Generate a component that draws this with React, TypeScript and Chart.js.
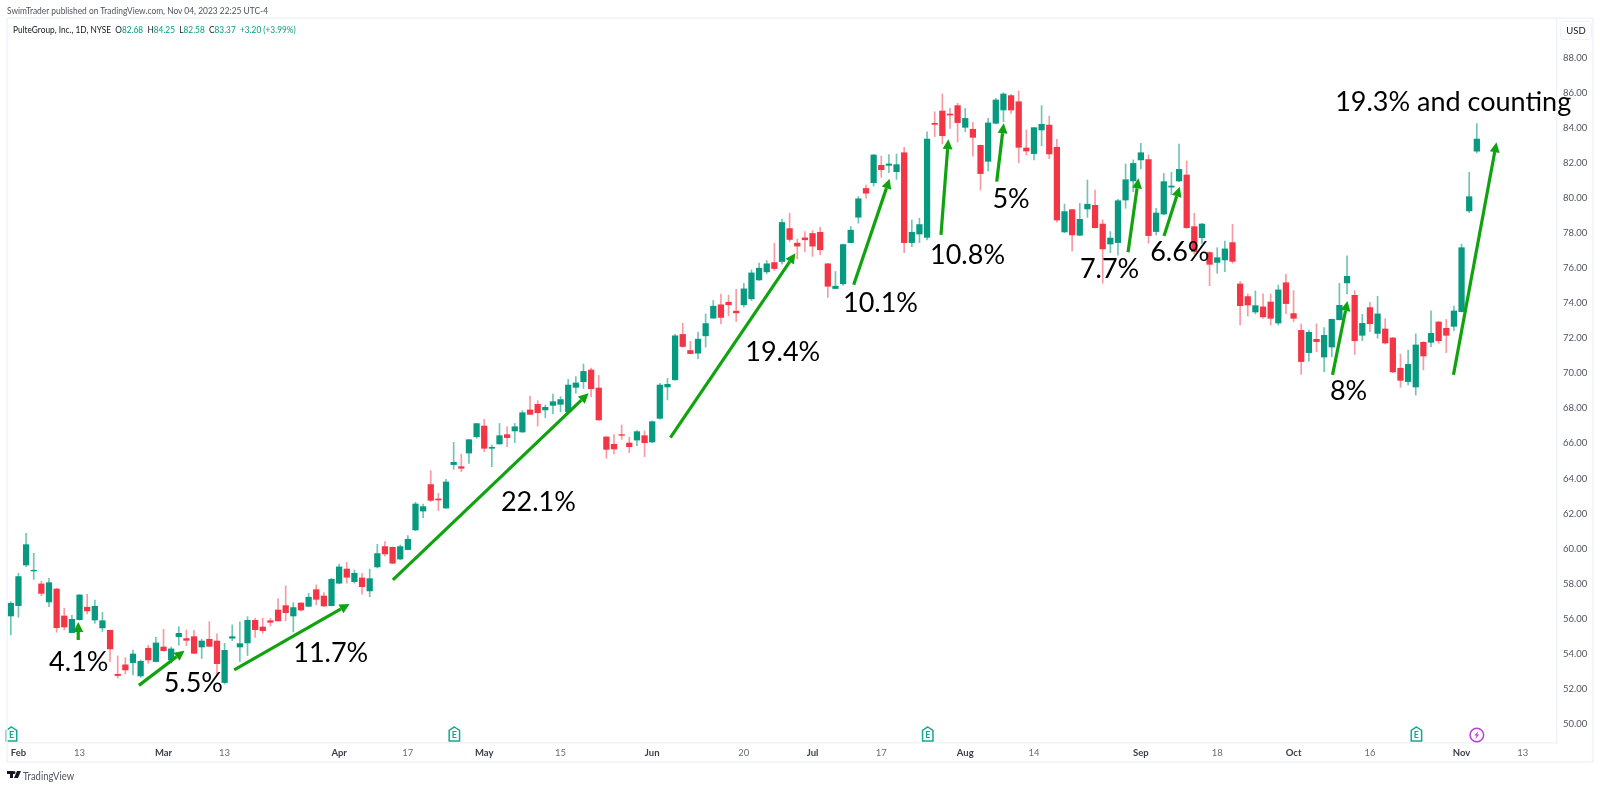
import { useEffect, useRef } from "react"
import { Chart, registerables } from "chart.js"

Chart.register(...registerables)

const opens = [
  56.15, 56.74, 59.06, 58.72, 57.98, 56.95, 57.69, 56.15, 55.2, 55.94,
  56.65, 55.92, 55.47, 55.33, 52.82, 53.36, 53.49, 52.73, 54.31, 53.55,
  54.38, 53.64, 54.97, 54.86, 54.97, 54.38, 54.82, 54.72, 52.35, 54.88,
  54.38, 54.61, 55.9, 55.52, 55.88, 56.49, 56.74, 56.15, 56.89, 56.7,
  57.65, 57.29, 56.74, 58.02, 58.83, 58.11, 58.32, 57.58, 58.95, 60.11,
  60.07, 59.4, 59.94, 61.06, 62.14, 63.65, 62.83, 62.31, 64.79, 64.67,
  65.45, 66.38, 66.99, 65.72, 65.97, 66.5, 66.71, 66.65, 67.91, 68.23,
  67.91, 68.17, 68.23, 67.81, 69.2, 69.52, 70.19, 69.16, 66.37, 65.95,
  66.5, 66.02, 66.19, 66.44, 66.08, 67.43, 69.22, 69.63, 72.22, 71.3,
  71.15, 72.14, 73.15, 73.91, 74.06, 73.55, 73.91, 74.25, 75.33, 75.79,
  76.32, 76.38, 78.26, 77.43, 77.73, 77.98, 78.05, 76.25, 74.84, 75.11,
  77.46, 78.91, 80.55, 80.88, 81.87, 81.87, 81.51, 82.59, 77.46, 77.95,
  77.76, 84.27, 84.97, 84.8, 85.28, 84.04, 83.93, 83.01, 82.1, 84.27,
  85.03, 85.85, 85.5, 82.86, 82.54, 83.89, 84.17, 82.9, 78.07, 79.34,
  77.88, 79.38, 79.59, 78.52, 77.38, 77.46, 79.89, 80.98, 82.18, 82.2,
  78.09, 79.09, 80.63, 80.98, 81.32, 78.37, 77.74, 76.89, 76.33, 76.47,
  77.46, 75.1, 74.38, 73.5, 73.79, 74.07, 72.87, 75.17, 73.41, 72.45,
  71.18, 71.94, 70.93, 71.5, 73.06, 75.16, 74.45, 72.17, 73.75, 72.28,
  72.53, 72.02, 70.29, 69.53, 69.22, 71.77, 71.77, 72.93, 72.57, 72.68,
  73.52, 79.27, 82.68,
]

const highs = [
  56.97, 58.59, 60.87, 59.73, 58.13, 58.3, 57.73, 56.59, 56.19, 57.37,
  57.39, 57.06, 56.36, 55.35, 53.87, 53.77, 54.21, 53.64, 54.48, 54.93,
  55.39, 54.38, 55.54, 55.35, 55.33, 54.82, 55.83, 55.13, 54.59, 55.64,
  55.81, 56.11, 56.02, 56.02, 56.02, 57.14, 57.86, 56.91, 56.91, 57.44,
  57.92, 57.48, 58.3, 59.1, 59.21, 58.78, 58.59, 58.83, 60.24, 60.39,
  60.09, 60.2, 60.74, 62.64, 62.54, 64.44, 63.15, 63.95, 66.06, 65.38,
  66.23, 67.14, 67.37, 65.91, 67.14, 66.95, 67.14, 67.87, 68.7, 68.44,
  68.19, 68.82, 68.67, 69.66, 69.81, 70.53, 70.3, 69.88, 66.38, 66.5,
  67.05, 66.35, 66.73, 66.71, 67.28, 69.43, 69.71, 72.23, 72.86, 71.82,
  72.35, 73.39, 74.16, 74.52, 74.46, 74.8, 75.14, 75.9, 76.29, 76.44,
  77.43, 78.8, 79.14, 77.66, 78.09, 78.15, 78.34, 76.27, 75.81, 77.37,
  78.38, 80.09, 80.75, 82.5, 82.4, 82.48, 82.52, 82.9, 78.75, 78.85,
  83.79, 84.93, 85.94, 85.12, 85.41, 85.12, 84.32, 83.03, 84.55, 85.69,
  86.02, 85.92, 86.11, 83.89, 84.04, 85.28, 84.69, 83.35, 79.66, 79.36,
  79.7, 81.03, 80.46, 78.75, 78.09, 79.93, 81.95, 82.18, 83.13, 82.46,
  79.42, 81.41, 81.47, 83.09, 82.12, 79.13, 78.56, 76.94, 77.17, 77.55,
  78.5, 75.23, 74.53, 74.7, 74.53, 74.53, 75.04, 75.65, 74.72, 72.82,
  72.47, 72.82, 72.61, 73.1, 75.14, 76.7, 74.72, 73.37, 74.05, 74.39,
  73.12, 72.04, 71.1, 71.33, 72.25, 71.81, 73.56, 72.95, 73.08, 73.84,
  77.38, 81.47, 84.25,
]

const lows = [
  55.07, 56.08, 58.97, 58.24, 57.31, 56.68, 55.22, 55.35, 55.18, 55.92,
  56.27, 55.73, 55.26, 53.55, 52.61, 52.84, 52.78, 52.65, 53.45, 53.53,
  54.14, 53.45, 54.48, 54.46, 54.0, 53.72, 54.4, 52.78, 52.27, 54.74,
  53.55, 53.89, 54.93, 55.16, 55.58, 55.85, 55.88, 55.24, 56.42, 56.68,
  56.78, 56.68, 56.72, 57.98, 58.02, 58.02, 57.39, 57.25, 58.89, 59.57,
  59.14, 59.35, 59.92, 61.02, 61.76, 62.68, 62.16, 62.29, 64.52, 64.39,
  64.86, 66.29, 65.53, 64.67, 65.95, 65.81, 66.04, 66.63, 67.64, 66.99,
  67.47, 67.68, 67.81, 67.79, 68.86, 69.14, 68.67, 67.32, 65.15, 65.4,
  66.23, 65.47, 65.87, 65.24, 66.04, 67.39, 68.48, 69.61, 71.49, 71.11,
  70.83, 71.49, 73.13, 72.82, 73.28, 72.96, 73.78, 74.16, 75.3, 75.68,
  75.87, 76.25, 77.52, 76.53, 76.95, 76.67, 76.76, 74.33, 74.82, 75.01,
  77.45, 78.57, 80.0, 80.69, 81.19, 81.45, 81.07, 76.89, 77.23, 77.46,
  77.61, 83.51, 83.09, 83.98, 83.2, 83.79, 82.4, 80.46, 81.55, 84.23,
  84.36, 84.84, 82.02, 82.46, 82.18, 82.99, 82.25, 78.62, 78.03, 76.98,
  77.86, 78.9, 78.3, 75.14, 76.89, 76.75, 79.42, 80.37, 81.66, 77.42,
  77.9, 79.04, 80.18, 80.94, 78.28, 76.8, 77.42, 75.0, 75.71, 75.8,
  76.28, 72.76, 73.27, 73.39, 73.14, 72.76, 72.76, 73.41, 72.95, 69.94,
  70.7, 71.24, 70.1, 70.95, 73.04, 74.53, 71.08, 71.86, 72.38, 72.0,
  71.67, 70.04, 69.2, 69.34, 68.76, 70.19, 71.52, 71.71, 71.18, 72.43,
  73.5, 79.17, 82.58,
]

const closes = [
  56.87, 58.4, 60.22, 58.76, 57.44, 58.05, 55.48, 55.52, 55.96, 57.35,
  56.44, 56.7, 55.88, 54.27, 52.75, 53.07, 53.98, 53.56, 53.64, 54.61,
  54.17, 54.27, 55.16, 54.76, 54.02, 54.72, 54.42, 53.43, 54.19, 54.97,
  54.57, 55.9, 55.37, 55.31, 55.79, 55.87, 56.34, 56.63, 56.49, 57.22,
  57.1, 56.72, 58.24, 58.95, 58.36, 58.59, 57.82, 58.28, 59.71, 59.69,
  59.16, 60.11, 60.53, 62.54, 62.39, 62.75, 62.77, 63.8, 64.92, 64.58,
  66.21, 67.13, 65.72, 65.78, 66.44, 66.33, 66.95, 67.75, 67.66, 67.75,
  68.06, 68.38, 68.5, 69.33, 69.45, 70.11, 69.12, 67.34, 65.66, 65.68,
  66.46, 65.81, 66.67, 66.04, 67.24, 69.33, 69.37, 72.14, 71.53, 71.13,
  71.95, 72.84, 73.83, 73.19, 73.91, 73.45, 74.82, 75.73, 76.0, 76.25,
  75.98, 78.61, 77.64, 77.26, 77.62, 77.26, 77.05, 74.97, 74.97, 77.35,
  78.17, 79.96, 80.28, 82.46, 81.62, 81.95, 81.91, 77.46, 78.05, 78.49,
  83.37, 84.21, 83.56, 84.74, 84.31, 84.55, 83.47, 81.4, 84.29, 85.6,
  85.94, 85.03, 82.9, 82.69, 84.02, 84.21, 82.52, 78.75, 79.23, 77.9,
  78.79, 79.65, 78.31, 77.1, 77.72, 79.85, 81.05, 81.98, 82.59, 77.86,
  79.15, 80.94, 80.69, 81.64, 78.31, 76.94, 78.52, 76.22, 76.6, 77.1,
  76.39, 73.86, 73.9, 73.86, 73.22, 73.14, 74.76, 73.98, 73.14, 70.67,
  72.34, 71.81, 72.17, 73.08, 73.88, 75.54, 71.86, 72.85, 72.83, 73.39,
  71.73, 70.08, 69.6, 70.51, 71.62, 70.99, 72.28, 71.86, 72.17, 73.56,
  77.17, 80.08, 83.37,
]

const priceTicks = [50, 52, 54, 56, 58, 60, 62, 64, 66, 68, 70, 72, 74, 76, 78, 80, 82, 84, 86, 88]
const slotCount = 203 // 193 sessions plus the empty space on the right
const dateTickSlots = [1, 9, 20, 28, 43, 52, 62, 72, 84, 96, 105, 114, 125, 134, 148, 158, 168, 178, 190, 198]
const dateTickLabels = ["Feb", "13", "Mar", "13", "Apr", "17", "May", "15", "Jun", "20", "Jul", "17", "Aug", "14", "Sep", "18", "Oct", "16", "Nov", "13"]
const monthNames = ["Feb", "Mar", "Apr", "May", "Jun", "Jul", "Aug", "Sep", "Oct", "Nov"]

const earningsSlots = [0, 58, 120, 184]
const splitSlots = [192]

const noteTexts = ["4.1%", "5.5%", "11.7%", "22.1%", "19.4%", "10.1%", "10.8%", "5%", "7.7%", "6.6%", "8%", "19.3% and counting"]
const noteSlots = [8.9, 23.9, 41.9, 69.1, 101.1, 113.9, 125.3, 131, 143.9, 153.1, 175.2, 188.9]
const notePrices = [53.52, 52.33, 54.04, 62.66, 71.22, 74.02, 76.76, 79.95, 75.96, 76.93, 69.0, 85.49]

const arrowFromSlots = [8.83, 16.77, 29.26, 50.04, 86.38, 110.39, 121.82, 129.12, 146.32, 151.03, 173.1, 188.94]
const arrowFromPrices = [54.78, 52.19, 53.07, 58.21, 66.33, 75.06, 77.9, 80.94, 76.91, 77.84, 69.91, 69.91]
const arrowToSlots = [8.83, 22.75, 44.37, 75.67, 102.75, 115.1, 122.79, 130.04, 147.68, 153.09, 175.06, 194.58]
const arrowToPrices = [55.81, 54.17, 56.84, 68.86, 76.85, 81.11, 83.36, 84.27, 81.13, 80.65, 74.13, 83.19]

const UP = "#089981"
const DOWN = "#f23645"
const UP_WICK = "rgba(8,153,129,0.58)"
const DOWN_WICK = "rgba(242,54,69,0.5)"
const ARROW = "#10a30f"
const FRAME = "#f0f3fa"
const UI_FONT = "Lato, sans-serif"

const isUp = (i: number) => closes[i] >= opens[i]

const markupPlugin = {
  id: "markup",
  afterDatasetsDraw(chart: any) {
    const { ctx, scales } = chart
    const x = scales.x
    const y = scales.y
    // the category scale takes fractional indexes for the notes and arrows
    const px = (slot: number) => x.getPixelForValue(slot)
    const py = (price: number) => y.getPixelForValue(price)

    ctx.save()
    ctx.textAlign = "center"
    ctx.textBaseline = "middle"

    // green arrows
    arrowToSlots.forEach((_, i) => {
      const x0 = px(arrowFromSlots[i])
      const y0 = py(arrowFromPrices[i])
      const x1 = px(arrowToSlots[i])
      const y1 = py(arrowToPrices[i])
      const angle = Math.atan2(y1 - y0, x1 - x0)
      const headLen = 10
      const headHalf = 5
      const bx = x1 - Math.cos(angle) * headLen
      const by = y1 - Math.sin(angle) * headLen
      ctx.strokeStyle = ARROW
      ctx.fillStyle = ARROW
      ctx.lineWidth = 3.2
      ctx.beginPath()
      ctx.moveTo(x0, y0)
      ctx.lineTo(bx, by)
      ctx.stroke()
      ctx.beginPath()
      ctx.moveTo(x1, y1)
      ctx.lineTo(bx - Math.sin(angle) * headHalf, by + Math.cos(angle) * headHalf)
      ctx.lineTo(bx + Math.sin(angle) * headHalf, by - Math.cos(angle) * headHalf)
      ctx.closePath()
      ctx.fill()
    })

    // earnings flags along the bottom of the pane
    const base = chart.chartArea.bottom
    earningsSlots.forEach((slot) => {
      const cx = px(slot) + 0.7
      ctx.strokeStyle = "#1aa58d"
      ctx.lineWidth = 1.5
      ctx.beginPath()
      ctx.moveTo(cx, base - 16)
      ctx.lineTo(cx + 5.2, base - 12.5)
      ctx.lineTo(cx + 5.2, base - 2)
      ctx.lineTo(cx - 5.2, base - 2)
      ctx.lineTo(cx - 5.2, base - 12.5)
      ctx.closePath()
      ctx.stroke()
      ctx.fillStyle = "#1aa58d"
      ctx.font = `bold 9px ${UI_FONT}`
      ctx.fillText("E", cx, base - 8)
    })

    // split marker
    splitSlots.forEach((slot) => {
      const cx = px(slot)
      const cy = base - 8
      ctx.strokeStyle = "#ba3fd6"
      ctx.fillStyle = "#ba3fd6"
      ctx.lineWidth = 1.5
      ctx.beginPath()
      ctx.arc(cx, cy, 6.8, 0, Math.PI * 2)
      ctx.stroke()
      ctx.beginPath()
      ctx.moveTo(cx + 1.8, cy - 4.2)
      ctx.lineTo(cx - 2.4, cy + 0.6)
      ctx.lineTo(cx - 0.2, cy + 0.6)
      ctx.lineTo(cx - 1.8, cy + 4.2)
      ctx.lineTo(cx + 2.4, cy - 0.6)
      ctx.lineTo(cx + 0.2, cy - 0.6)
      ctx.closePath()
      ctx.fill()
    })

    // outer frame of the widget
    ctx.strokeStyle = FRAME
    ctx.lineWidth = 1.5
    ctx.strokeRect(chart.chartArea.left, chart.chartArea.top, 1593 - chart.chartArea.left, 762 - chart.chartArea.top)

    // percent notes, allowed to run over the price axis
    ctx.fillStyle = "#000000"
    ctx.font = "27px Lato, sans-serif"
    noteTexts.forEach((text, i) => {
      ctx.fillText(text, px(noteSlots[i]), py(notePrices[i]))
    })
    ctx.restore()
  },
}

const textStyle = {
  position: "absolute",
  whiteSpace: "nowrap",
  fontFamily: UI_FONT,
  lineHeight: 1,
  transformOrigin: "left center",
} as const

function Val({ children }: { children: string }) {
  return <span style={{ color: UP }}>{children}</span>
}

export default function App() {
  const canvasRef = useRef<HTMLCanvasElement>(null)

  useEffect(() => {
    if (!canvasRef.current) return
    const labels = Array.from({ length: slotCount }, (_, i) => String(i))
    const idx = opens.map((_, i) => i)

    const chart = new Chart(canvasRef.current, {
      type: "bar",
      data: {
        labels,
        datasets: [
          {
            label: "Body",
            data: idx.map((i) => [opens[i], closes[i]]),
            backgroundColor: idx.map((i) => (isUp(i) ? UP : DOWN)),
            barThickness: 5.6,
            borderSkipped: false,
            grouped: false,
            order: 1,
          },
          {
            label: "Wick",
            data: idx.map((i) => [lows[i], highs[i]]),
            backgroundColor: idx.map((i) => (isUp(i) ? UP_WICK : DOWN_WICK)),
            barThickness: 1,
            borderSkipped: false,
            grouped: false,
            order: 2,
          },
        ] as any,
      },
      options: {
        responsive: false,
        animation: false,
        devicePixelRatio: 1,
        layout: { padding: { left: 7, right: 7, top: 18, bottom: 25 } },
        plugins: { legend: { display: false }, tooltip: { enabled: false } },
        scales: {
          x: {
            type: "category",
            offset: true,
            grid: { display: false, drawTicks: false },
            border: { display: true, color: FRAME, width: 1.5 },
            afterFit: (s: any) => {
              s.height = 19
            },
            ticks: {
              autoSkip: false,
              maxRotation: 0,
              padding: 4,
              callback: (_v: any, i: number) => {
                const at = dateTickSlots.indexOf(i)
                return at >= 0 ? dateTickLabels[at] : ""
              },
              font: (c: any) => ({
                family: UI_FONT,
                size: 9.5,
                weight: monthNames.includes(c.tick?.label) ? "700" : "400",
              }),
              color: (c: any) => (monthNames.includes(c.tick?.label) ? "#3a3e49" : "#6a6d78"),
            },
          },
          y: {
            type: "linear",
            position: "right",
            min: 48.9,
            max: 90.28,
            grid: { display: false, drawTicks: false },
            border: { display: true, color: FRAME, width: 1.5 },
            afterFit: (s: any) => {
              s.width = 36
            },
            afterBuildTicks: (s: any) => {
              s.ticks = priceTicks.map((value) => ({ value }))
            },
            ticks: {
              padding: 6,
              callback: (v: any) => Number(v).toFixed(2),
              font: { family: UI_FONT, size: 9.5 },
              color: "#50535e",
            },
          },
        },
      } as any,
      plugins: [markupPlugin],
    })

    return () => {
      chart.destroy()
    }
  }, [])

  return (
    <div style={{ position: "absolute", left: 0, top: 0, width: 1600, height: 787, background: "#fff", overflow: "hidden" }}>
      <canvas ref={canvasRef} width={1600} height={787} style={{ position: "absolute", left: 0, top: 0 }} />
      <div style={{ ...textStyle, left: 7, top: 5, fontSize: 10, color: "#50535e", transform: "scaleX(0.84)" }}>
        SwimTrader published on TradingView.com, Nov 04, 2023 22:25 UTC-4
      </div>
      <div style={{ ...textStyle, left: 12.5, top: 24, fontSize: 10, color: "#131722", transform: "scaleX(0.83)" }}>
        PulteGroup, Inc., 1D, NYSE&nbsp; O<Val>82.68</Val>&nbsp; H<Val>84.25</Val>&nbsp; L<Val>82.58</Val>&nbsp; C<Val>83.37</Val>&nbsp; <Val>+3.20 (+3.99%)</Val>
      </div>
      <div
        style={{
          ...textStyle,
          left: 1560,
          top: 21,
          width: 30,
          height: 17,
          lineHeight: "17px",
          textAlign: "center",
          fontSize: 9.5,
          color: "#131722",
          border: `1px solid ${FRAME}`,
          borderRadius: 3,
        }}
      >
        USD
      </div>
      <svg width={14} height={8} viewBox="0 0 14 8" style={{ position: "absolute", left: 7, top: 771 }}>
        <path d="M0 0h6v7H3V3H0zM10 0h4l-3 7H7zM7 0a1.5 1.5 0 1 1 0 3a1.5 1.5 0 1 1 0-3z" fill="#131722" />
      </svg>
      <div style={{ ...textStyle, left: 23, top: 770, fontSize: 11, color: "#50535e", transform: "scaleX(0.86)" }}>TradingView</div>
    </div>
  )
}
